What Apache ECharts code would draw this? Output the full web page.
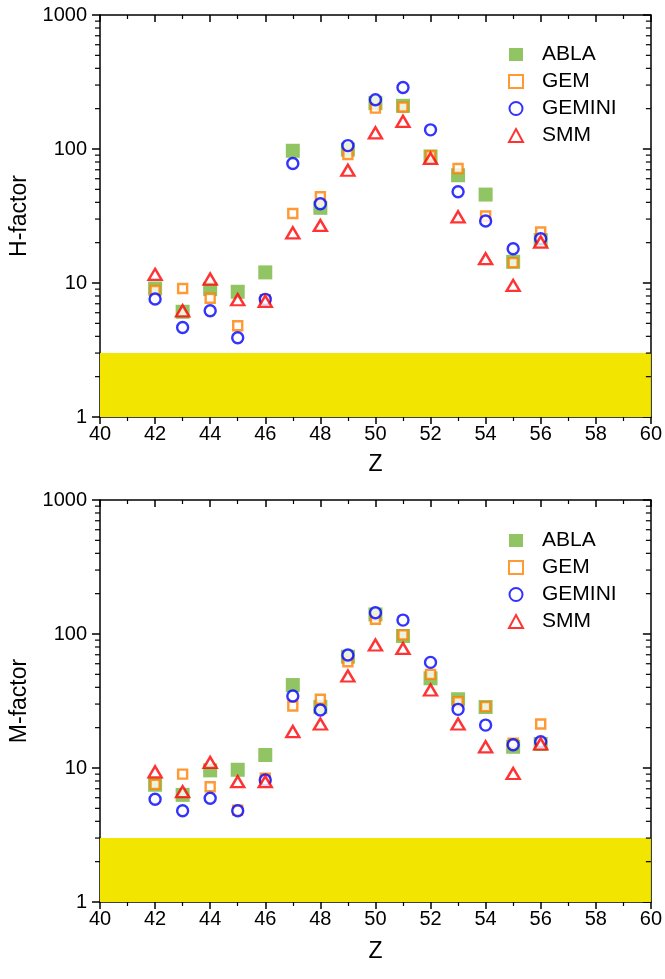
<!DOCTYPE html>
<html>
<head>
<meta charset="utf-8">
<script src="https://cdn.jsdelivr.net/npm/echarts@6/dist/echarts.min.js"></script>
<style>html,body{margin:0;padding:0;background:#fff}#c{width:665px;height:979px}</style>
</head>
<body>
<div id="c"></div>
<script>
const zValues = [42,43,44,45,46,47,48,49,50,51,52,53,54,55,56];

const hABLA   = [9.1, 6.1, 9.0, 8.6, 12.0, 97, 36.4, 99, 220, 210, 88, 63.7, 45.7, 14.4, 20.9];
const hGEM    = [8.8, 9.1, 7.7, 4.8, 7.5, 33, 44, 91, 202, 206, 89, 71.5, 31.6, 14.2, 24];
const hGEMINI = [7.6, 4.65, 6.2, 3.9, 7.55, 78, 39, 106, 233, 288, 139, 48, 29, 18, 21.4];
const hSMM    = [11.6, 6.2, 10.7, 7.5, 7.3, 23.7, 26.9, 69.4, 132, 161, 85, 31.2, 15.2, 9.6, 20.2];

const mABLA   = [7.5, 6.3, 9.6, 9.7, 12.5, 41.6, 28.6, 67.7, 140, 96.6, 46.7, 32.6, 28.5, 14.4, 15.1];
const mGEM    = [7.55, 9.0, 7.25, 4.85, 8.4, 29, 32.6, 62, 129, 98.5, 50, 31.2, 28.7, 15.3, 21.3];
const mGEMINI = [5.84, 4.8, 5.94, 4.8, 8.13, 34.5, 27.1, 69.7, 144, 127, 61.4, 27.4, 20.9, 14.9, 15.7];
const mSMM    = [9.37, 6.66, 11.0, 7.9, 7.9, 18.7, 21.3, 48.6, 82.8, 78, 38.2, 21.3, 14.4, 9.1, 15.1];

const seriesNames = ['ABLA','GEM','GEMINI','SMM'];
const xMin = 40, xMax = 60, xStep = 2;
const yMin = 1, yMax = 1000;
const bandLow = 1, bandHigh = 3;
const minorLogTicks = [2,3,4,5,6,7,8,9,20,30,40,50,60,70,80,90,200,300,400,500,600,700,800,900];

const FONT = 'Liberation Sans, Arial, sans-serif';
const axisLineStyle = {color:'#000', width:1.5};

const styles = {
  ABLA:   {symbol:'rect', symbolSize:14, itemStyle:{color:'#76b53b', borderWidth:0}},
  GEM:    {symbol:'rect', symbolSize:9, itemStyle:{color:'#ffffff', borderColor:'#ff8000', borderWidth:2.4}},
  GEMINI: {symbol:'circle', symbolSize:11, itemStyle:{color:'#ffffff', borderColor:'#0000ff', borderWidth:2.4}},
  SMM:    {symbol:'triangle', symbolSize:[13,11], itemStyle:{color:'#ffffff', borderColor:'#ff0000', borderWidth:2.4}}
};

const grids = [
  {left:100, right:13, top:15, height:402},
  {left:100, right:13, top:500, height:402}
];

const xAxes = [], yAxes = [];
[0,1].forEach(g => {
  xAxes.push({
    type:'value', gridIndex:g, min:xMin, max:xMax, interval:xStep, position:'bottom',
    name:'Z', nameLocation:'middle', nameGap: g===0 ? 36 : 38,
    nameTextStyle:{fontSize:23, color:'#000', fontFamily:FONT},
    axisLine:{show:true, onZero:false, lineStyle:axisLineStyle},
    axisTick:{show:true, inside:false, length:7, lineStyle:{color:'#000', width:1.5}},
    minorTick:{show:true, splitNumber:2, length:4, lineStyle:{color:'#000', width:1.2}},
    axisLabel:{fontSize:20, color:'#000', fontFamily:FONT, margin:7},
    splitLine:{show:false}
  });
  xAxes.push({
    type:'value', gridIndex:g, min:xMin, max:xMax, interval:xStep, position:'top',
    axisLine:{show:true, onZero:false, lineStyle:axisLineStyle},
    axisTick:{show:true, inside:true, length:7, lineStyle:{color:'#000', width:1.5}},
    minorTick:{show:true, splitNumber:2, length:4, lineStyle:{color:'#000', width:1.2}},
    axisLabel:{show:false}, splitLine:{show:false}
  });
  yAxes.push({
    type:'log', logBase:10, gridIndex:g, min:yMin, max:yMax, position:'left',
    name: g===0 ? 'H-factor' : 'M-factor', nameLocation:'middle', nameGap:61,
    nameTextStyle:{fontSize:23, color:'#000', fontFamily:FONT},
    axisLine:{show:true, onZero:false, lineStyle:axisLineStyle},
    axisTick:{show:true, inside:false, length:8, lineStyle:{color:'#000', width:1.5}},
    axisLabel:{fontSize:20, color:'#000', fontFamily:FONT, margin:13,
      formatter: v => String(Math.round(v))},
    splitLine:{show:false}
  });
  yAxes.push({
    type:'log', logBase:10, gridIndex:g, min:yMin, max:yMax, position:'right',
    axisLine:{show:true, onZero:false, lineStyle:axisLineStyle},
    axisTick:{show:true, inside:true, length:8, lineStyle:{color:'#000', width:1.5}},
    axisLabel:{show:false}, splitLine:{show:false}
  });
});

const dataSets = [
  {ABLA:hABLA, GEM:hGEM, GEMINI:hGEMINI, SMM:hSMM},
  {ABLA:mABLA, GEM:mGEM, GEMINI:mGEMINI, SMM:mSMM}
];

const series = [];
[0,1].forEach(g => {
  series.push({
    type:'line', xAxisIndex:g*2, yAxisIndex:g*2, data:[], silent:true, z:1,
    markArea:{silent:true, itemStyle:{color:'#f2e600'},
      data:[[{coord:[xMin, bandLow]}, {coord:[xMax, bandHigh]}]]}
  });
  series.push({
    type:'custom', xAxisIndex:g*2, yAxisIndex:g*2, silent:true, clip:false, z:5,
    data: minorLogTicks.map(v => [xMin, v]),
    renderItem: function(params, api){
      const v = api.value(1);
      const pl = api.coord([xMin, v]);
      const pr = api.coord([xMax, v]);
      const st = {stroke:'#000', lineWidth:1.2};
      return {type:'group', children:[
        {type:'line', shape:{x1:pl[0]-5, y1:pl[1], x2:pl[0], y2:pl[1]}, style:st},
        {type:'line', shape:{x1:pr[0]-5, y1:pr[1], x2:pr[0], y2:pr[1]}, style:st}
      ]};
    }
  });
  seriesNames.forEach((n, i) => {
    series.push(Object.assign({
      name:n, type:'scatter', xAxisIndex:g*2, yAxisIndex:g*2, z:10+i,
      data: zValues.map((z, k) => [z, dataSets[g][n][k]])
    }, styles[n]));
  });
});

const legends = [0,1].map(g => ({
  orient:'vertical', left:503, top: g===0 ? 39 : 525,
  itemWidth:14, itemHeight:13, itemGap:6,
  data: seriesNames.map(n => ({name:n})),
  textStyle:{fontSize:21, color:'#000', fontFamily:FONT, padding:[0,0,0,14]},
  selectedMode:false
}));

const chart = echarts.init(document.getElementById('c'), null, {renderer:'canvas'});
chart.setOption({
  backgroundColor:'#fff',
  animation:false,
  grid:grids, xAxis:xAxes, yAxis:yAxes,
  legend:legends,
  series:series
});
</script>
</body>
</html>
